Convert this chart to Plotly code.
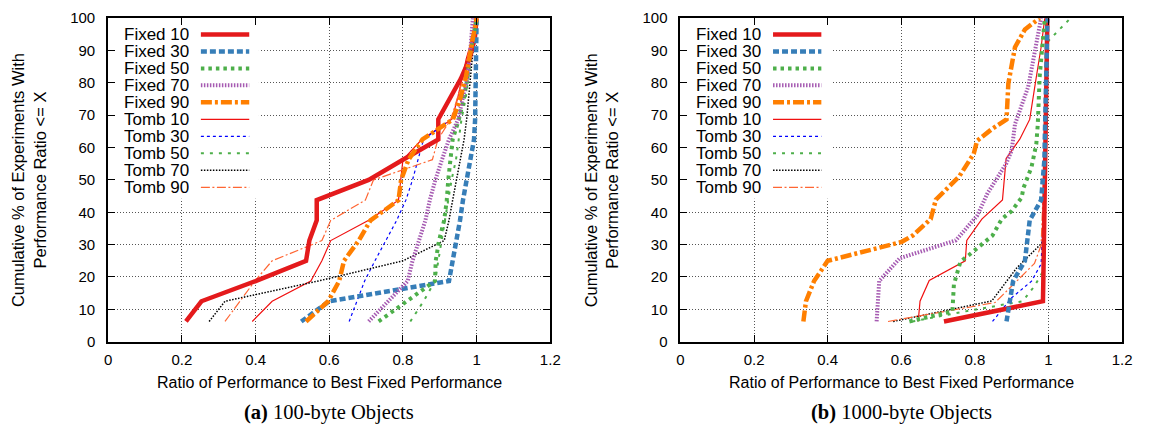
import plotly.graph_objects as go

# ---------------------------------------------------------------------------
# Cumulative distribution of performance ratios (16 experiments per series)
# ---------------------------------------------------------------------------
series_names = ["Fixed 10", "Fixed 30", "Fixed 50", "Fixed 70", "Fixed 90",
                "Tomb 10", "Tomb 30", "Tomb 50", "Tomb 70", "Tomb 90"]

cum_levels = [6.25, 12.5, 18.75, 25, 31.25, 37.5, 43.75, 50,
              56.25, 62.5, 68.75, 75, 81.25, 87.5, 93.75, 100]

# (a) 100-byte objects: ratio at each cumulative level
small_fixed10 = [0.211, 0.253, 0.40, 0.537, 0.546, 0.566, 0.566, 0.707,
                 0.80, 0.896, 0.896, 0.927, 0.957, 0.981, 0.995, 1.0]
small_fixed30 = [0.524, 0.60, 0.925, 0.936, 0.945, 0.955, 0.963, 0.973,
                 0.985, 0.993, 0.996, 0.997, 0.998, 0.998, 0.999, 1.0]
small_fixed50 = [0.734, 0.81, 0.887, 0.889, 0.898, 0.912, 0.919, 0.923,
                 0.93, 0.935, 0.952, 0.965, 0.975, 0.98, 0.99, 1.0]
small_fixed70 = [0.707, 0.76, 0.813, 0.826, 0.843, 0.861, 0.873, 0.888,
                 0.906, 0.925, 0.95, 0.963, 0.974, 0.981, 0.986, 0.99]
small_fixed90 = [0.537, 0.597, 0.627, 0.64, 0.68, 0.712, 0.788, 0.795,
                 0.815, 0.853, 0.936, 0.955, 0.97, 0.98, 0.99, 1.0]
small_tomb10 = [0.391, 0.445, 0.55, 0.58, 0.604, 0.707, 0.788, 0.794,
                0.80, 0.851, 0.933, 0.948, 0.96, 0.972, 0.988, 1.0]
small_tomb30 = [0.654, 0.675, 0.696, 0.724, 0.754, 0.783, 0.808, 0.826,
                0.841, 0.856, 0.93, 0.96, 0.975, 0.985, 0.99, 1.0]
small_tomb50 = [0.82, 0.856, 0.887, 0.896, 0.906, 0.914, 0.923, 0.932,
                0.944, 0.952, 0.959, 0.97, 0.978, 0.985, 0.99, 1.0]
small_tomb70 = [0.274, 0.317, 0.57, 0.80, 0.912, 0.925, 0.935, 0.945,
                0.957, 0.966, 0.973, 0.979, 0.983, 0.988, 0.993, 1.0]
small_tomb90 = [0.317, 0.358, 0.398, 0.445, 0.58, 0.604, 0.698, 0.72,
                0.88, 0.895, 0.93, 0.947, 0.963, 0.975, 0.985, 1.0]

# (b) 1000-byte objects: (ratio, cumulative %) pairs
large_fixed10_x = [0.716, 0.985, 0.986, 0.987, 0.988, 0.99, 0.991, 0.992,
                   0.993, 0.994, 0.995, 0.995, 0.996, 0.996, 0.997, 0.997]
large_fixed10_y = cum_levels
large_fixed30_x = [0.886, 0.895, 0.904, 0.936, 0.943, 0.949, 0.98, 0.985,
                   0.989, 0.99, 0.992, 0.993, 0.994, 0.995, 0.996, 0.997]
large_fixed30_y = cum_levels
large_fixed50_x = [0.622, 0.739, 0.743, 0.752, 0.761, 0.784, 0.81, 0.848,
                   0.873, 0.90, 0.927, 0.932, 0.954, 0.967, 0.971, 0.976, 0.99]
large_fixed50_y = [6.25, 9.4, 17.7, 21.2, 24.8, 26.8, 29.3, 32.8,
                   37.9, 40.4, 44.5, 47.5, 54, 61.1, 67.2, 81.8, 100]
large_fixed70_x = [0.533, 0.54, 0.596, 0.748, 0.806, 0.835, 0.885, 0.90,
                   0.909, 0.945, 0.98]
large_fixed70_y = [6.25, 18.75, 25.8, 31.3, 38.9, 46, 55, 59.1,
                   67.2, 78.8, 100]
large_fixed90_x = [0.334, 0.341, 0.363, 0.40, 0.60, 0.631, 0.68, 0.694,
                   0.757, 0.797, 0.806, 0.846, 0.886, 0.891, 0.909, 0.936, 0.976]
large_fixed90_y = [6.25, 12.5, 18.75, 25, 30.8, 32.8, 37.9, 43.9,
                   51, 58.1, 62.1, 65.7, 68.7, 79.8, 91, 96.5, 100]
large_tomb10_x = [0.646, 0.651, 0.676, 0.774, 0.778, 0.819, 0.875, 0.879,
                  0.885, 0.922, 0.949, 0.967, 0.98, 0.99]
large_tomb10_y = [6.25, 12.5, 18.9, 25, 31.3, 37.9, 43.8, 50,
                  56.6, 62.6, 68.7, 81.8, 91, 100]
large_tomb30_x = [0.848, 0.90, 0.954, 0.98, 0.99, 0.995]
large_tomb30_y = [6.25, 13.6, 18.7, 24, 50, 100]
large_tomb50_x = [0.63, 0.78, 0.93, 0.962, 0.985, 0.99, 0.995, 1.0, 1.06]
large_tomb50_y = [6.25, 9.5, 12.5, 17.2, 21.7, 40, 80, 93, 100]
large_tomb70_x = [0.578, 0.846, 0.913, 0.985, 0.99, 0.995]
large_tomb70_y = [6.25, 12.6, 22.7, 30.8, 60, 100]
large_tomb90_x = [0.564, 0.855, 0.918, 0.962, 0.98, 0.99, 0.995]
large_tomb90_y = [6.25, 12.1, 19.2, 24.2, 29.8, 60, 100]

x_tick_vals = [0, 0.2, 0.4, 0.6, 0.8, 1, 1.2]
x_tick_text = ["0", "0.2", "0.4", "0.6", "0.8", "1", "1.2"]
y_tick_vals = [0, 10, 20, 30, 40, 50, 60, 70, 80, 90, 100]

panel_captions = ["<b>(a)</b> 100-byte Objects", "<b>(b)</b> 1000-byte Objects"]
x_title = "Ratio of Performance to Best Fixed Performance"
y_title = "Cumulative % of Experiments With<br>Performance Ratio <= X"

# ---------------------------------------------------------------------------
# Line styles (gnuplot-like)
# ---------------------------------------------------------------------------
styles = {
    "Fixed 10": dict(color="#e41a1c", width=4.5, dash="solid"),
    "Fixed 30": dict(color="#377eb8", width=4.5, dash="6px,3px"),
    "Fixed 50": dict(color="#4daf4a", width=4, dash="3.5px,4px"),
    "Fixed 70": dict(color="#a65bb2", width=4, dash="1.5px,1.5px"),
    "Fixed 90": dict(color="#ff7f00", width=4.5, dash="11px,3px,3px,3px"),
    "Tomb 10": dict(color="#f01010", width=1.2, dash="solid"),
    "Tomb 30": dict(color="#0000ff", width=1.2, dash="3px,3px"),
    "Tomb 50": dict(color="#4daf4a", width=2, dash="3px,6px"),
    "Tomb 70": dict(color="#000000", width=1.5, dash="1.5px,1.5px"),
    "Tomb 90": dict(color="#ff6633", width=1.2, dash="9px,2.5px,2px,2.5px"),
}

small_data = {
    "Fixed 10": (small_fixed10, cum_levels),
    "Fixed 30": (small_fixed30, cum_levels),
    "Fixed 50": (small_fixed50, cum_levels),
    "Fixed 70": (small_fixed70, cum_levels),
    "Fixed 90": (small_fixed90, cum_levels),
    "Tomb 10": (small_tomb10, cum_levels),
    "Tomb 30": (small_tomb30, cum_levels),
    "Tomb 50": (small_tomb50, cum_levels),
    "Tomb 70": (small_tomb70, cum_levels),
    "Tomb 90": (small_tomb90, cum_levels),
}
large_data = {
    "Fixed 10": (large_fixed10_x, large_fixed10_y),
    "Fixed 30": (large_fixed30_x, large_fixed30_y),
    "Fixed 50": (large_fixed50_x, large_fixed50_y),
    "Fixed 70": (large_fixed70_x, large_fixed70_y),
    "Fixed 90": (large_fixed90_x, large_fixed90_y),
    "Tomb 10": (large_tomb10_x, large_tomb10_y),
    "Tomb 30": (large_tomb30_x, large_tomb30_y),
    "Tomb 50": (large_tomb50_x, large_tomb50_y),
    "Tomb 70": (large_tomb70_x, large_tomb70_y),
    "Tomb 90": (large_tomb90_x, large_tomb90_y),
}

# ---------------------------------------------------------------------------
# Figure geometry, in figure pixels
# ---------------------------------------------------------------------------
W, H = 1153, 436
SANS = "Liberation Sans, Arial, Helvetica, sans-serif"
SERIF = "Liberation Serif, Times New Roman, serif"
X_MAX, Y_MAX = 1.2, 100

panels = [
    dict(x0=105.5, x1=553.0, ytitle_x=25.5, xa="x", ya="y", data=small_data),
    dict(x0=684.8, x1=1131.8, ytitle_x=604.8, xa="x2", ya="y2", data=large_data),
]
plot_top, plot_bottom = 9.5, 346.2
x_title_y, caption_y = 389.0, 420.0

fig = go.Figure()

# draw order: Tomb lines underneath, Fixed lines on top
draw_order = series_names[5:] + series_names[:5]
for p in panels:
    for name in draw_order:
        xs, ys = p["data"][name]
        st = styles[name]
        fig.add_trace(go.Scatter(
            x=xs, y=ys, mode="lines", name=name, showlegend=False,
            xaxis=p["xa"], yaxis=p["ya"], hoverinfo="skip",
            line=dict(color=st["color"], width=st["width"], dash=st["dash"]),
        ))

axis_common = dict(
    showline=True, linecolor="black", linewidth=2, mirror="ticks",
    ticks="inside", ticklen=7, tickwidth=1, tickcolor="black",
    showgrid=True, gridcolor="#555555", gridwidth=1, griddash="1px,2px",
    zeroline=False, fixedrange=True,
    tickfont=dict(family=SANS, size=15, color="black"),
)

layout = dict(
    width=W, height=H, margin=dict(l=0, r=0, t=0, b=0),
    paper_bgcolor="white", plot_bgcolor="white",
    font=dict(family=SANS, color="black"),
    shapes=[], annotations=[],
)

# key placement, as fractions of the plotting area
KEY_TEXT_X = 0.185
KEY_LINE_X0, KEY_LINE_X1 = 0.2096, 0.319
KEY_ROW0, KEY_STEP = 0.9497, 0.0525
KEY_BOX_X1, KEY_BOX_Y0 = 0.341, 0.4415

ydom = [1 - plot_bottom / H, 1 - plot_top / H]
for i, p in enumerate(panels):
    sfx = "" if i == 0 else "2"
    layout["xaxis" + sfx] = dict(
        axis_common, domain=[p["x0"] / W, p["x1"] / W], range=[0, X_MAX],
        tickvals=x_tick_vals, ticktext=x_tick_text, anchor="y" + sfx,
        ticklabelstandoff=3,
    )
    layout["yaxis" + sfx] = dict(
        axis_common, domain=ydom, range=[0, Y_MAX], tickvals=y_tick_vals,
        anchor="x" + sfx, ticklabelstandoff=8,
    )

    xr, yr = p["xa"], p["ya"]

    # opaque key box (hides the grid, keeps ticks and frame)
    layout["shapes"].append(dict(
        type="rect", xref=xr, yref=yr, x0=0, x1=KEY_BOX_X1 * X_MAX,
        y0=KEY_BOX_Y0 * Y_MAX, y1=Y_MAX,
        fillcolor="white", line=dict(width=0), layer="between",
    ))
    # key entries: right-aligned label followed by a line sample
    for k, name in enumerate(series_names):
        yk = (KEY_ROW0 - k * KEY_STEP) * Y_MAX
        st = styles[name]
        layout["annotations"].append(dict(
            xref=xr, yref=yr, x=KEY_TEXT_X * X_MAX, y=yk, text=name,
            showarrow=False, xanchor="right", yanchor="middle",
            height=16, borderpad=0,
            font=dict(family=SANS, size=17, color="black"),
        ))
        layout["shapes"].append(dict(
            type="line", xref=xr, yref=yr,
            x0=KEY_LINE_X0 * X_MAX, x1=KEY_LINE_X1 * X_MAX, y0=yk, y1=yk,
            layer="above",
            line=dict(color=st["color"], width=st["width"], dash=st["dash"]),
        ))

    xc = (p["x0"] + p["x1"]) / 2 / W
    # x-axis title
    layout["annotations"].append(dict(
        xref="paper", yref="paper", x=xc, y=1 - x_title_y / H, text=x_title,
        showarrow=False, xanchor="center", yanchor="middle",
        font=dict(family=SANS, size=16, color="black"),
    ))
    # y-axis title
    layout["annotations"].append(dict(
        xref="paper", yref="paper", x=p["ytitle_x"] / W,
        y=1 - (plot_top + plot_bottom) / 2 / H, text=y_title,
        showarrow=False, xanchor="center", yanchor="middle", textangle=-90,
        font=dict(family=SANS, size=16.5, color="black"),
    ))
    # panel caption
    layout["annotations"].append(dict(
        xref="paper", yref="paper", x=xc, y=1 - caption_y / H,
        text=panel_captions[i], showarrow=False,
        xanchor="center", yanchor="middle",
        font=dict(family=SERIF, size=20.5, color="black"),
    ))

fig.update_layout(**layout)
fig.write_html("out.html", config={"displayModeBar": False})
